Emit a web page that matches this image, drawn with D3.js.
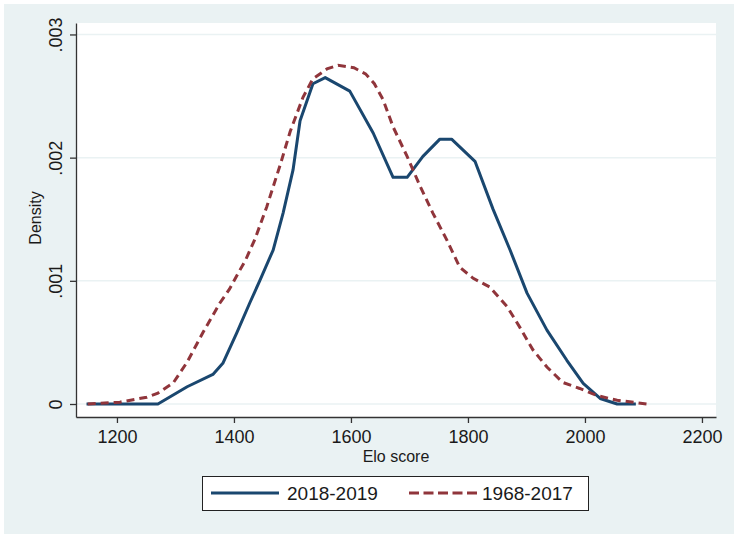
<!DOCTYPE html>
<html>
<head>
<meta charset="utf-8">
<script src="https://cdn.jsdelivr.net/npm/d3@7"></script>
<style>
  body { margin: 0; background: #fff; }
  text { font-family: "Liberation Sans", Arial, sans-serif; fill: #1a1a1a; }
</style>
</head>
<body>
<script>
// Elo score density, two periods (density in 1/1000)
var recentElo  = [1148, 1270, 1320, 1364, 1381, 1405, 1427, 1444, 1467, 1484, 1501, 1513, 1535, 1556, 1598, 1638, 1672, 1696, 1723, 1752, 1772, 1812, 1843, 1872, 1901, 1935, 1969, 1997, 2026, 2055, 2087];
var recentDens = [0, 0, 0.14, 0.24, 0.33, 0.58, 0.82, 1.0, 1.25, 1.55, 1.9, 2.3, 2.6, 2.65, 2.54, 2.2, 1.84, 1.84, 2.01, 2.15, 2.15, 1.97, 1.58, 1.25, 0.9, 0.6, 0.355, 0.167, 0.045, 0, 0];

var pastElo  = [1150, 1205, 1251, 1270, 1296, 1320, 1347, 1376, 1392, 1407, 1420, 1436, 1456, 1479, 1496, 1518, 1535, 1559, 1578, 1605, 1625, 1640, 1655, 1672, 1696, 1718, 1740, 1764, 1786, 1809, 1837, 1867, 1889, 1911, 1935, 1962, 1991, 2020, 2055, 2106];
var pastDens = [0, 0.015, 0.055, 0.088, 0.17, 0.34, 0.58, 0.82, 0.93, 1.06, 1.17, 1.34, 1.6, 1.94, 2.21, 2.49, 2.64, 2.72, 2.75, 2.73, 2.68, 2.6, 2.47, 2.25, 2.01, 1.77, 1.55, 1.33, 1.11, 1.02, 0.95, 0.79, 0.62, 0.44, 0.3, 0.175, 0.126, 0.07, 0.03, 0];

var xTicks = [1200, 1400, 1600, 1800, 2000, 2200];
var yTicks = [0, 0.001, 0.002, 0.003];
var seriesNames = ["2018-2019", "1968-2017"];

var svg = d3.select("body").append("svg").attr("width", 739).attr("height", 540);

// outer background and white plot region
svg.append("rect").attr("x", 4).attr("y", 4).attr("width", 730).attr("height", 530).attr("fill", "#eaf2f3");
svg.append("rect").attr("x", 76).attr("y", 23).attr("width", 640).attr("height", 394).attr("fill", "#fff");

var x = d3.scaleLinear().domain([1130, 2224]).range([76, 716]);
var y = d3.scaleLinear().domain([-0.0001055, 0.003093]).range([417, 23]);

// gridlines
svg.append("g").selectAll("line")
    .data(yTicks)
    .enter().append("line")
    .attr("x1", 76).attr("x2", 716)
    .attr("y1", function(d) { return y(d); })
    .attr("y2", function(d) { return y(d); })
    .attr("stroke", "#eaf2f3")
    .attr("stroke-width", 1.5);

// axes
var xAxis = svg.append("g")
    .attr("transform", "translate(0,417)")
    .call(d3.axisBottom(x).tickValues(xTicks).tickFormat(d3.format("d")).tickSize(6).tickSizeOuter(0));
xAxis.selectAll("text").style("font-size", "18px").attr("dy", 0).attr("y", 26);

var yAxis = svg.append("g")
    .attr("transform", "translate(76,0)")
    .call(d3.axisLeft(y).tickValues(yTicks).tickSize(6).tickSizeOuter(0)
      .tickFormat(function(d) { return d === 0 ? "0" : d3.format(".3f")(d).replace(/^0/, ""); }));
yAxis.selectAll("text")
    .style("font-size", "18px")
    .attr("transform", "rotate(-90)")
    .attr("x", 0).attr("y", -14).attr("dy", 0)
    .attr("text-anchor", "middle");

svg.selectAll(".domain, .tick line").attr("stroke", "#333").attr("stroke-width", 1.3);

// axis titles
svg.append("text")
    .attr("x", 396).attr("y", 462)
    .attr("text-anchor", "middle")
    .style("font-size", "16px")
    .text("Elo score");

svg.append("text")
    .attr("transform", "translate(41,218) rotate(-90)")
    .attr("text-anchor", "middle")
    .style("font-size", "16px")
    .text("Density");

// curves
var line = d3.line()
    .x(function(d) { return x(d[0]); })
    .y(function(d) { return y(d[1] / 1000); });

var recent = recentElo.map(function(v, i) { return [v, recentDens[i]]; });
var past = pastElo.map(function(v, i) { return [v, pastDens[i]]; });

svg.append("path")
    .datum(recent)
    .attr("d", line)
    .attr("fill", "none")
    .attr("stroke", "#1a476f")
    .attr("stroke-width", 3)
    .attr("stroke-linejoin", "round");

svg.append("path")
    .datum(past)
    .attr("d", line)
    .attr("fill", "none")
    .attr("stroke", "#90353b")
    .attr("stroke-width", 3)
    .attr("stroke-dasharray", "8,5");

// legend
var legend = svg.append("g");
legend.append("rect")
    .attr("x", 202.5).attr("y", 476.5).attr("width", 386).attr("height", 34)
    .attr("fill", "#fff").attr("stroke", "#222").attr("stroke-width", 1);

legend.append("line")
    .attr("x1", 211).attr("x2", 279).attr("y1", 493).attr("y2", 493)
    .attr("stroke", "#1a476f").attr("stroke-width", 3);
legend.append("text")
    .attr("x", 287).attr("y", 500)
    .style("font-size", "19px")
    .text(seriesNames[0]);

legend.append("line")
    .attr("x1", 409).attr("x2", 477).attr("y1", 493).attr("y2", 493)
    .attr("stroke", "#90353b").attr("stroke-width", 3)
    .attr("stroke-dasharray", "10,4.5");
legend.append("text")
    .attr("x", 482).attr("y", 500)
    .style("font-size", "19px")
    .text(seriesNames[1]);
</script>
</body>
</html>
